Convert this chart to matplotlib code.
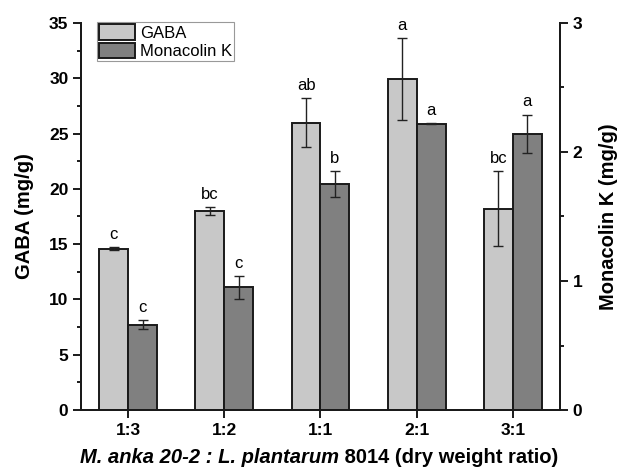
import numpy as np
import matplotlib
matplotlib.use("Agg")
import matplotlib.pyplot as plt
from matplotlib.ticker import MultipleLocator

plt.rcParams["font.family"] = ["Liberation Sans", "DejaVu Sans"]

# data
ratios = ["1:3", "1:2", "1:1", "2:1", "3:1"]
gaba = [14.6, 18.0, 26.0, 29.9, 18.2]
gaba_err = [0.15, 0.35, 2.2, 3.7, 3.4]
gaba_letters = ["c", "bc", "ab", "a", "bc"]
mk = [0.66, 0.95, 1.75, 2.22, 2.14]
mk_err = [0.035, 0.09, 0.10, 0.006, 0.15]
mk_letters = ["c", "c", "b", "a", "a"]

x = np.arange(len(ratios))
w = 0.3

fig = plt.figure(figsize=(6.21, 4.68), dpi=100)
ax = fig.add_axes([0.1304, 0.1239, 0.7714, 0.827])
ax2 = ax.twinx()

err_kw = dict(ecolor="#222222", elinewidth=1.0, capsize=3.6, capthick=1.0)
b1 = ax.bar(x - w / 2, gaba, w, yerr=gaba_err, color="#c8c8c8",
            edgecolor="#1a1a1a", linewidth=1.4, error_kw=err_kw, label="GABA")
b2 = ax2.bar(x + w / 2, mk, w, yerr=mk_err, color="#808080",
             edgecolor="#1a1a1a", linewidth=1.4, error_kw=err_kw, label="Monacolin K")

# significance letters above the error bars
for xi, v, e, t in zip(x, gaba, gaba_err, gaba_letters):
    ax.annotate(t, (xi - w / 2, v + e), xytext=(0, 6), textcoords="offset points",
                ha="center", va="baseline", fontsize=12)
for xi, v, e, t in zip(x, mk, mk_err, mk_letters):
    ax2.annotate(t, (xi + w / 2, v + e), xytext=(0, 6), textcoords="offset points",
                 ha="center", va="baseline", fontsize=12)

ax.set_xlim(-0.49, 4.49)
ax.set_ylim(0, 35)
ax2.set_ylim(0, 3)
ax.set_xticks(x)
ax.set_xticklabels(ratios)
ax.yaxis.set_major_locator(MultipleLocator(5))
ax.yaxis.set_minor_locator(MultipleLocator(2.5))
ax2.yaxis.set_major_locator(MultipleLocator(1))
ax2.yaxis.set_minor_locator(MultipleLocator(0.5))

for a in (ax, ax2):
    a.spines["top"].set_visible(False)
    for s in a.spines.values():
        s.set_linewidth(1.4)
        s.set_color("#1a1a1a")
    a.tick_params(which="major", length=6, width=1.4, color="#1a1a1a",
                  labelsize=12.5, pad=3)
    a.tick_params(which="minor", length=3, width=1.4, color="#1a1a1a")
    for lbl in a.get_xticklabels() + a.get_yticklabels():
        lbl.set_fontweight("bold")

ax.set_ylabel("GABA (mg/g)", fontsize=14.5, fontweight="bold", labelpad=11)
ax2.set_ylabel("Monacolin K (mg/g)", fontsize=14.5, fontweight="bold", labelpad=12)

# x label: italic species names, upright remainder
t1 = fig.text(0.5459, 0.011, "M. anka 20-2 : L. plantarum", fontsize=14.5,
              fontweight="bold", style="italic", ha="right", va="baseline")
ax.annotate(" 8014 (dry weight ratio)", xy=(1, 0), xycoords=t1, fontsize=14.5,
            fontweight="bold", ha="left", va="bottom")

leg = ax2.legend([b1, b2], ["GABA", "Monacolin K"], loc="upper left",
                 bbox_to_anchor=(0.0334, 1.0026), fontsize=12, fancybox=False,
                 edgecolor="#999999", framealpha=1, handlelength=2.15,
                 handleheight=1.08, handletextpad=0.3, borderpad=0.12,
                 labelspacing=0.12, borderaxespad=0)
leg.get_frame().set_linewidth(0.8)

fig.savefig("out.png", dpi=100)
